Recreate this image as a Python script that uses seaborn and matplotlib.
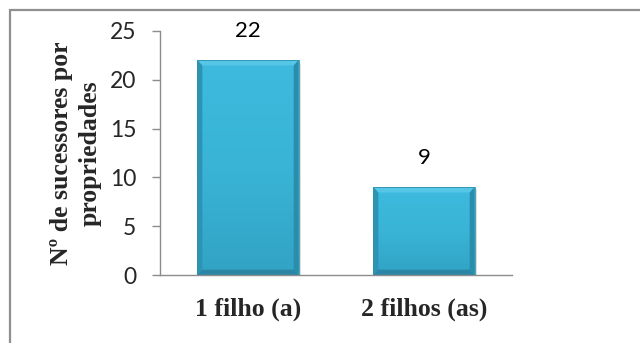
import numpy as np
import pandas as pd
import matplotlib
matplotlib.use("Agg")
import matplotlib.pyplot as plt
from matplotlib.patches import Polygon, Rectangle
from matplotlib.colors import LinearSegmentedColormap
import seaborn as sns

categorias = ["1 filho (a)", "2 filhos (as)"]
sucessores = [22, 9]
y_ticks = [0, 5, 10, 15, 20, 25]
y_label = "Nº de sucessores por\npropriedades"

sns.set_style("white")
plt.rcParams["font.family"] = ["Lato", "DejaVu Sans"]

df = pd.DataFrame({"categoria": categorias, "n": sucessores})

fig = plt.figure(figsize=(6.4, 3.43), dpi=100)
ax = fig.add_axes([0.25, 0.198, 0.55, 0.712])

sns.barplot(data=df, x="categoria", y="n", color="#3bb7d9", width=0.575,
            saturation=1, ax=ax, zorder=2)

# shaded, bevelled look for each bar
grad_cmap = LinearSegmentedColormap.from_list("barshade", ["#3dbade", "#39b4d6", "#32a3c4"])
bx = 0.028   # bevel width in category units
by = 0.55    # bevel height in data units
for p in ax.patches:
    x0, y0 = p.get_x(), p.get_y()
    w, h = p.get_width(), p.get_height()
    x1, y1 = x0 + w, y0 + h
    grad = np.linspace(0, 1, 100).reshape(-1, 1)
    im = ax.imshow(grad, cmap=grad_cmap, aspect="auto", extent=(x0, x1, y0, y1),
                   origin="upper", zorder=2.1)
    im.set_clip_path(p)
    # top bevel (light)
    ax.add_patch(Polygon([(x0, y1), (x1, y1), (x1 - bx, y1 - by), (x0 + bx, y1 - by)],
                         closed=True, facecolor="#55c6e6", edgecolor="none", zorder=2.2))
    # side bevels (dark)
    ax.add_patch(Polygon([(x0, y1), (x0 + bx, y1 - by), (x0 + bx, y0 + by), (x0, y0)],
                         closed=True, facecolor="#2d93b3", edgecolor="none", zorder=2.2))
    ax.add_patch(Polygon([(x1, y1), (x1 - bx, y1 - by), (x1 - bx, y0 + by), (x1, y0)],
                         closed=True, facecolor="#2b8dac", edgecolor="none", zorder=2.2))
    # bottom bevel (darker)
    ax.add_patch(Polygon([(x0, y0), (x0 + bx, y0 + by), (x1 - bx, y0 + by), (x1, y0)],
                         closed=True, facecolor="#2a86a4", edgecolor="none", zorder=2.2))
    # soft shadow on the right
    ax.add_patch(Rectangle((x1, y0), 0.012, h * 0.98, facecolor="#d8d8d8",
                           edgecolor="none", zorder=1.9))
    ax.add_patch(Rectangle((x0, y0), w, h, facecolor="none", edgecolor="#2f8fae",
                           linewidth=0.6, zorder=2.3))

# value labels above bars
for i, v in enumerate(sucessores):
    ax.annotate(f"{v}", xy=(i, v), xytext=(0, 14), textcoords="offset points",
                ha="center", va="bottom", fontsize=16, color="black",
                fontfamily=["Lato", "DejaVu Sans"])

ax.set_xlim(-0.5, 1.5)
ax.set_ylim(0, 25)
ax.set_yticks(y_ticks)
ax.set_yticklabels([str(t) for t in y_ticks], fontsize=16.5)
ax.set_xlabel("")
ax.set_ylabel(y_label, fontsize=18.5, fontweight="bold",
              fontfamily=["Liberation Serif", "DejaVu Serif"], labelpad=6,
              linespacing=1.3)
for lbl in ax.get_xticklabels():
    lbl.set_fontfamily(["Liberation Serif", "DejaVu Serif"])
    lbl.set_fontweight("bold")
    lbl.set_fontsize(18.5)

ax.tick_params(axis="y", which="major", direction="out", length=6, width=1,
               color="#8c8c8c", left=True, pad=11)
ax.tick_params(axis="x", length=0, pad=16)

for side in ["top", "right"]:
    ax.spines[side].set_visible(False)
for side in ["left", "bottom"]:
    ax.spines[side].set_color("#8c8c8c")
    ax.spines[side].set_linewidth(1.0)

# outer chart frame
fig.patches.append(Rectangle((10 / 640, -0.1), 1.0, (343 - 10) / 343 + 0.1,
                             transform=fig.transFigure, fill=False,
                             edgecolor="#8f8f8f", linewidth=1.6))

fig.savefig("out.png", dpi=100)
